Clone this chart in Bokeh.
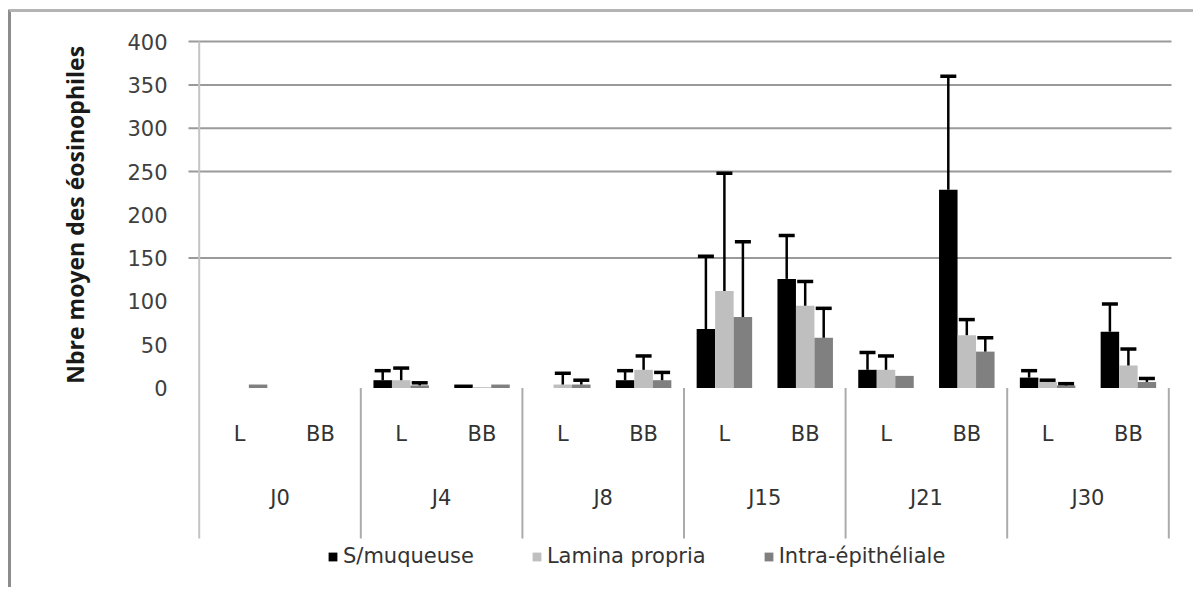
import numpy as np
from bokeh.plotting import figure
from bokeh.models import (ColumnDataSource, Range1d, Whisker, TeeHead, Legend, LegendItem)
from bokeh.embed import file_html
from bokeh.resources import INLINE
from bokeh.core.properties import value

# ---------------- data ----------------
days = ["J0", "J4", "J8", "J15", "J21", "J30"]
sites = ["L", "BB"]
series_names = ["S/muqueuse", "Lamina propria", "Intra-épithéliale"]
series_colors = ["#000000", "#bfbfbf", "#808080"]

# order: J0-L, J0-BB, J4-L, J4-BB, ... J30-L, J30-BB
s_muqueuse      = [0, 0, 9, 4, 0, 9, 68, 126, 21, 229, 12, 65]
s_muqueuse_err  = [0, 0, 11, 0, 0, 11, 84, 50, 20, 131, 8, 32]
lamina          = [0, 0, 9, 1, 4, 21, 112, 95, 21, 61, 7, 26]
lamina_err      = [0, 0, 14, 0, 13, 16, 136, 28, 16, 18, 2, 19]
intra           = [4, 0, 3, 4, 4, 9, 82, 58, 14, 42, 3, 7]
intra_err       = [0, 0, 3, 0, 5, 9, 87, 34, 0, 16, 2, 4]

y_ticks = [0, 50, 100, 150, 200, 250, 300, 350, 400]
grid_values = [150, 250, 300, 350, 400]
y_title = "Nbre moyen des éosinophiles"

# ---------------- layout (data units: 1 group = 161.6 px, 1 count = 0.866 px) ----------------
W, H = 1193, 587
px_per_x = 161.6
px_per_y = 0.866
x0_px, y0_px = 198.7, 387.5          # canvas position of x=0 / y=0
x_start = -x0_px / px_per_x
x_end = (W - x0_px) / px_per_x
y_top = y0_px / px_per_y
y_bottom = -(H - y0_px) / px_per_y

def dx(px):
    return px / px_per_x

def dy(px):
    return px / px_per_y

bw = dx(18.5)
site_offsets = [0.25, 0.75]
series_offsets = [-bw, 0.0, bw]
n = len(days)

p = figure(width=W, height=H,
           x_range=Range1d(x_start, x_end), y_range=Range1d(y_bottom, y_top),
           output_backend="svg", toolbar_location=None,
           x_axis_location=None, y_axis_location=None,
           min_border_left=0, min_border_right=0, min_border_top=0, min_border_bottom=0)
p.outline_line_color = None
p.background_fill_color = "white"
p.border_fill_color = "white"
p.grid.visible = False

# outer chart-area border (left and top edges)
p.segment(x0=[x_start + dx(9)], y0=[y_bottom], x1=[x_start + dx(9)], y1=[y_top - dy(9)],
          line_color="#8c8c8c", line_width=3)
p.segment(x0=[x_start + dx(9)], y0=[y_top - dy(10)], x1=[x_end], y1=[y_top - dy(10)],
          line_color="#b4b4b4", line_width=3)

# gridlines (only those visible in the reference)
g_left = -dx(10.7)
g_right = n + dx(2.7)
p.segment(x0=[g_left] * len(grid_values), y0=grid_values,
          x1=[g_right] * len(grid_values), y1=grid_values,
          line_color="#9a9a9a", line_width=2)

# axis line and group separators
plot_bottom = -dy(538 - y0_px)
p.segment(x0=[0], y0=[plot_bottom], x1=[0], y1=[y_ticks[-1]], line_color="#c4c4c4", line_width=2)
sep_x = [i + 1 for i in range(n)]
p.segment(x0=sep_x, y0=[0] * n, x1=sep_x, y1=[plot_bottom] * n,
          line_color="#ababab", line_width=2)

# y tick labels
p.text(x=[g_left - dx(21)] * len(y_ticks), y=y_ticks, text=[str(t) for t in y_ticks],
       text_font=value("DejaVu Sans"), text_font_size="21px", text_align="right",
       text_baseline="middle", text_color="#404040")

# y title
p.text(x=[-dx(x0_px - 74)], y=[200], text=[y_title], angle=np.pi / 2,
       text_font=value("Open Sans"), text_font_size="23px", text_font_style="bold",
       text_align="center", text_baseline="middle", text_color="#1a1a1a")

# bars + error bars
all_vals = [s_muqueuse, lamina, intra]
all_errs = [s_muqueuse_err, lamina_err, intra_err]
items = []
for k, (name, col, vals, errs) in enumerate(zip(series_names, series_colors, all_vals, all_errs)):
    xs = []
    for i in range(n):
        for j in range(len(sites)):
            xs.append(i + site_offsets[j] + series_offsets[k])
    src = ColumnDataSource(dict(x=xs, top=vals))
    r = p.vbar(x="x", top="top", bottom=0, width=bw, source=src,
               fill_color=col, line_color=None)
    items.append(LegendItem(label=name, renderers=[r]))
    ex = [x for x, e in zip(xs, errs) if e > 0]
    lo = [v for v, e in zip(vals, errs) if e > 0]
    up = [v + e for v, e in zip(vals, errs) if e > 0]
    esrc = ColumnDataSource(dict(x=ex, lower=lo, upper=up))
    w = Whisker(source=esrc, base="x", lower="lower", upper="upper", dimension="height",
                line_color="black", line_width=2.5, level="annotation",
                upper_head=TeeHead(size=16, line_width=3.5, line_color="black"),
                lower_head=None)
    p.add_layout(w)

# category labels
lx, lt = [], []
for i in range(n):
    for j, s in enumerate(sites):
        lx.append(i + site_offsets[j])
        lt.append(s)
site_label_y = -dy(433 - y0_px)
day_label_y = -dy(497 - y0_px)
p.text(x=lx, y=[site_label_y] * len(lx), text=lt, text_font=value("DejaVu Sans"),
       text_font_size="21px", text_align="center", text_baseline="middle",
       text_color="#333333")
p.text(x=[i + 0.5 for i in range(n)], y=[day_label_y] * n, text=days,
       text_font=value("DejaVu Sans"), text_font_size="21px", text_align="center",
       text_baseline="middle", text_color="#333333")

legend = Legend(items=items, orientation="horizontal", location=(327, H - 568),
                glyph_width=11, glyph_height=11, label_standoff=5, spacing=57,
                padding=2, margin=0, border_line_color=None, background_fill_alpha=0,
                label_text_font="DejaVu Sans", label_text_font_size="21px",
                label_text_color="#333333", label_height=20)
p.add_layout(legend, "center")

open("out.html", "w").write(file_html(p, INLINE))
